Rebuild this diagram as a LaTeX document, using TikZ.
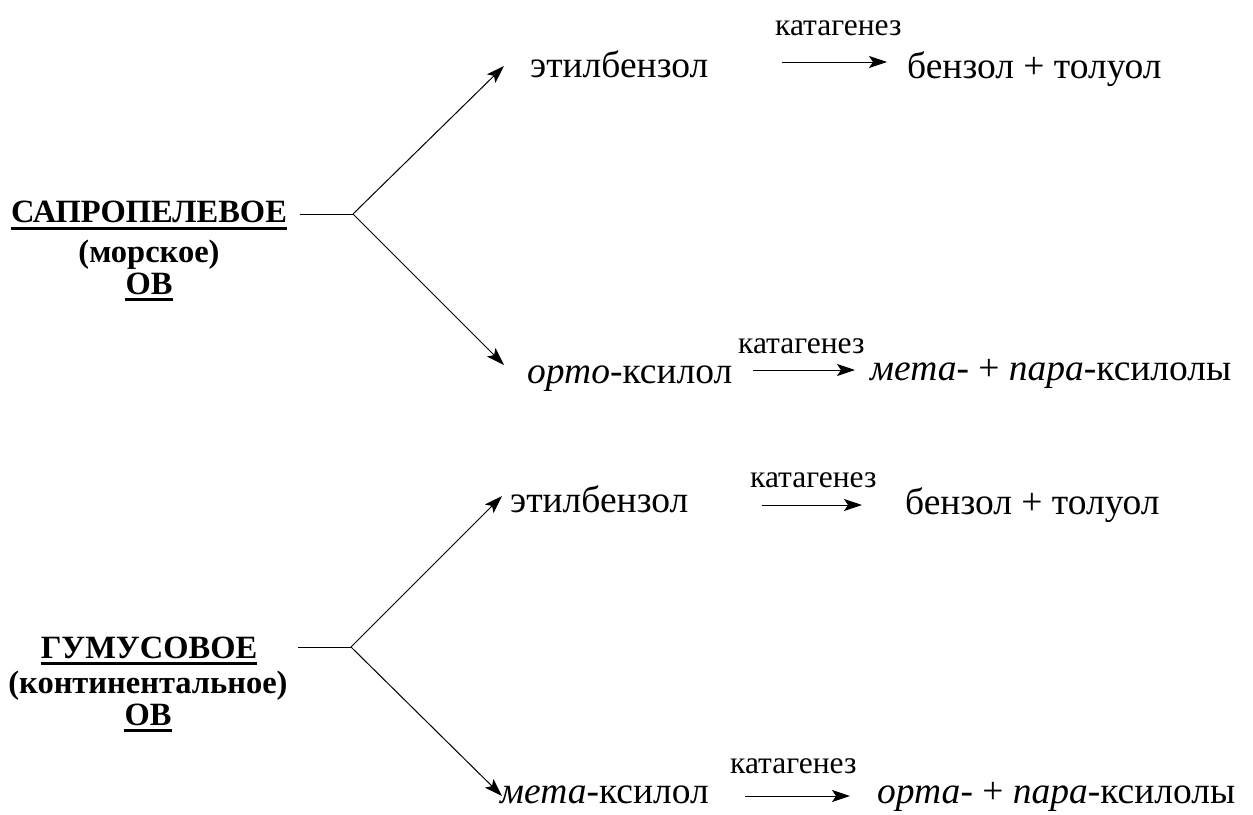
\documentclass[tikz,border=0pt]{standalone}
\usepackage{fontspec}
\setmainfont{Liberation Serif}
\usetikzlibrary{arrows.meta}
\begin{document}
\begin{tikzpicture}[x=1pt,y=-1pt,
 txt/.style={inner sep=0pt, anchor=base west, font=\fontsize{37.5}{45}\selectfont},
 small/.style={inner sep=0pt, anchor=base west, font=\fontsize{31.5}{38}\selectfont},
 lbl/.style={inner sep=0pt, anchor=base, font=\bfseries\fontsize{32.5}{38}\selectfont},
 sublbl/.style={lbl},
 conn/.style={line width=1pt},
 arr/.style={line width=1pt, -{Stealth[length=18pt,width=12pt,inset=4pt]}},
 uline/.style={line width=3pt}]
\useasboundingbox (0,0) rectangle (1253,814);

% ---- upper block
\node[lbl] (sap) at (149,222) {САПРОПЕЛЕВОЕ};
\node[sublbl] (mor) at (149,262) {(морское)};
\node[lbl] (ov1) at (149,294) {ОВ};
\draw[uline] ([yshift=-6pt]sap.base west) -- ([yshift=-6pt]sap.base east);
\draw[uline] ([yshift=-5pt]ov1.base west) -- ([yshift=-5pt]ov1.base east);

\coordinate (s1) at (300,214);
\coordinate (j1) at (353,214);
\coordinate (t1) at (504,66);
\coordinate (t2) at (504,365);
\draw[conn] (s1) -- (j1);
\draw[arr] (j1) -- (t1);
\draw[arr] (j1) -- (t2);

\node[txt] (eb1) at (530,77) {этилбензол};
\node[small] (k1) at (775,35) {катагенез};
\coordinate (a1s) at (782,62);
\coordinate (a1e) at (887,62);
\draw[arr] (a1s) -- (a1e);
\node[txt] (bt1) at (907,78) {бензол + толуол};

\node[txt] (ox) at (527,383) {\textit{орто}-ксилол};
\node[small] (k2) at (738,353) {катагенез};
\coordinate (a2s) at (753,370);
\coordinate (a2e) at (855,370);
\draw[arr] (a2s) -- (a2e);
\node[txt] (mp) at (870,380) {\textit{мета}- + \textit{пара}-ксилолы};

% ---- lower block
\node[lbl] (gum) at (149,658) {ГУМУСОВОЕ};
\node[sublbl] (kont) at (148,693) {(континентальное)};
\node[lbl] (ov2) at (148,725) {ОВ};
\draw[uline] ([yshift=-5pt]gum.base west) -- ([yshift=-5pt]gum.base east);
\draw[uline] ([yshift=-5pt]ov2.base west) -- ([yshift=-5pt]ov2.base east);

\coordinate (s2) at (298,647);
\coordinate (j2) at (351,647);
\coordinate (t3) at (502,496);
\coordinate (t4) at (502,796);
\draw[conn] (s2) -- (j2);
\draw[arr] (j2) -- (t3);
\draw[arr] (j2) -- (t4);

\node[txt] (eb2) at (510,512) {этилбензол};
\node[small] (k3) at (750,487) {катагенез};
\coordinate (a3s) at (762,505);
\coordinate (a3e) at (862,505);
\draw[arr] (a3s) -- (a3e);
\node[txt] (bt2) at (905,514) {бензол + толуол};

\node[txt] (mx) at (500,803) {\textit{мета}-ксилол};
\node[small] (k4) at (730,773) {катагенез};
\coordinate (a4s) at (745,796);
\coordinate (a4e) at (850,796);
\draw[arr] (a4s) -- (a4e);
\node[txt] (op) at (877,803) {\textit{орта}- + \textit{пара}-ксилолы};
\end{tikzpicture}
\end{document}
